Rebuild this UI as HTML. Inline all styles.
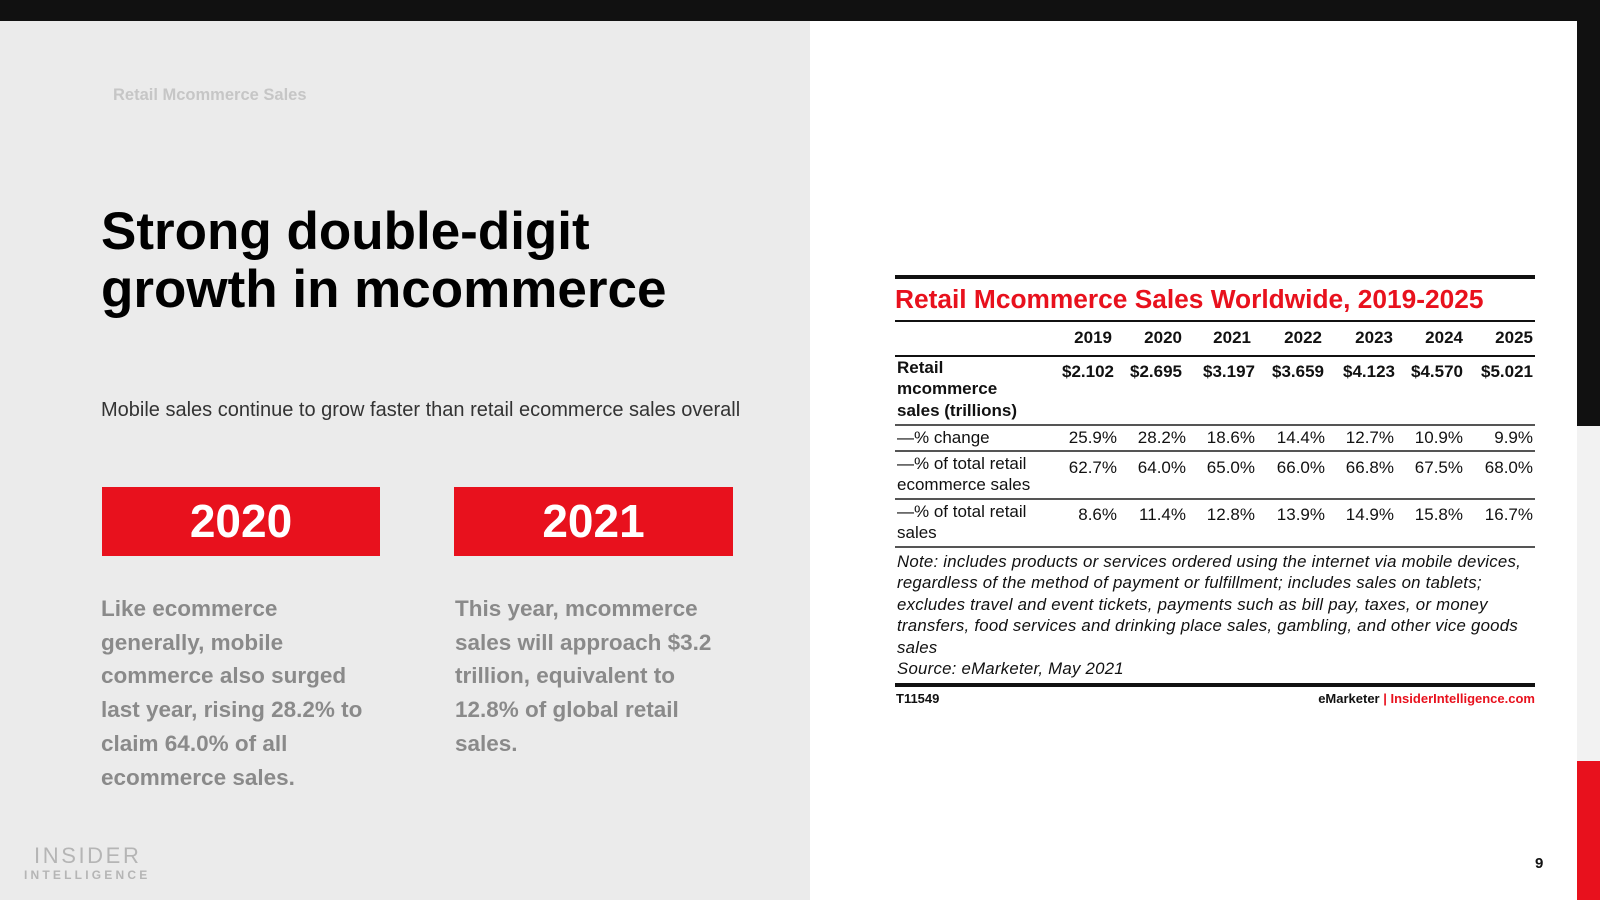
<!DOCTYPE html>
<html><head><meta charset="utf-8"><style>
*{margin:0;padding:0;box-sizing:border-box}
body{width:1600px;height:900px;position:relative;overflow:hidden;background:#fff;font-family:"Liberation Sans",Arial,sans-serif}
.a{position:absolute;white-space:nowrap}
.l{position:absolute;left:895px;width:640px;background:#111}
.v{position:absolute;width:70px;text-align:right;font-size:17px;color:#111}
.rl{position:absolute;left:897px;font-size:17px;color:#111;line-height:21.4px}
.p{position:absolute;font-size:22.5px;font-weight:bold;color:#8a8a8a;line-height:33.7px;white-space:nowrap}
.box{position:absolute;top:487px;height:69px;background:#e8111d;color:#fff;font-weight:bold;font-size:46px;text-align:center;line-height:69px}
</style></head><body>
<div class="a" style="left:0;top:0;width:810px;height:900px;background:#ebebeb"></div>
<div class="a" style="left:0;top:0;width:1600px;height:21px;background:#111"></div>
<div class="a" style="left:1577px;top:21px;width:23px;height:405px;background:#111"></div>
<div class="a" style="left:1577px;top:426px;width:23px;height:335px;background:#f2f2f2"></div>
<div class="a" style="left:1577px;top:761px;width:23px;height:139px;background:#e8111d"></div>

<div class="a" style="left:113px;top:86px;font-size:16.5px;font-weight:bold;color:#c6c6c6">Retail Mcommerce Sales</div>
<div class="a" style="left:101px;top:203px;font-size:53px;font-weight:bold;color:#000;line-height:58px">Strong double-digit<br>growth in mcommerce</div>
<div class="a" style="left:101px;top:399px;font-size:20px;color:#333">Mobile sales continue to grow faster than retail ecommerce sales overall</div>
<div class="box" style="left:102px;width:278px">2020</div>
<div class="box" style="left:454px;width:279px">2021</div>
<div class="p" style="left:101px;top:592px">Like ecommerce<br>generally, mobile<br>commerce also surged<br>last year, rising 28.2% to<br>claim 64.0% of all<br>ecommerce sales.</div>
<div class="p" style="left:455px;top:592px">This year, mcommerce<br>sales will approach $3.2<br>trillion, equivalent to<br>12.8% of global retail<br>sales.</div>
<div class="a" style="left:34px;top:843px;font-size:22px;color:#b5b5b5;letter-spacing:2.6px">INSIDER</div>
<div class="a" style="left:24px;top:868px;font-size:12px;font-weight:bold;color:#b5b5b5;letter-spacing:3.2px">INTELLIGENCE</div>

<div class="l" style="top:275px;height:4px"></div>
<div class="a" style="left:895px;top:284px;font-size:26.3px;font-weight:bold;color:#e8111d">Retail Mcommerce Sales Worldwide, 2019-2025</div>
<div class="l" style="top:320px;height:2px"></div>
<div class="l" style="top:355px;height:1.5px"></div>
<div class="l" style="top:424px;height:1.5px;background:#555"></div>
<div class="l" style="top:450px;height:1.5px;background:#555"></div>
<div class="l" style="top:498px;height:1.5px;background:#555"></div>
<div class="l" style="top:546px;height:1.5px;background:#555"></div>
<div class="l" style="top:683px;height:4px"></div>

<div class="rl" style="top:357px;font-weight:bold">Retail<br>mcommerce<br>sales (trillions)</div>
<div class="rl" style="top:427px">—% change</div>
<div class="rl" style="top:453px">—% of total retail<br>ecommerce sales</div>
<div class="rl" style="top:501px">—% of total retail<br>sales</div>

<div class="v" style="left:1042px;top:328px;font-weight:bold">2019</div>
<div class="v" style="left:1112px;top:328px;font-weight:bold">2020</div>
<div class="v" style="left:1181px;top:328px;font-weight:bold">2021</div>
<div class="v" style="left:1252px;top:328px;font-weight:bold">2022</div>
<div class="v" style="left:1323px;top:328px;font-weight:bold">2023</div>
<div class="v" style="left:1393px;top:328px;font-weight:bold">2024</div>
<div class="v" style="left:1463px;top:328px;font-weight:bold">2025</div>

<div class="v" style="left:1044px;top:362px;font-weight:bold">$2.102</div>
<div class="v" style="left:1112px;top:362px;font-weight:bold">$2.695</div>
<div class="v" style="left:1185px;top:362px;font-weight:bold">$3.197</div>
<div class="v" style="left:1254px;top:362px;font-weight:bold">$3.659</div>
<div class="v" style="left:1325px;top:362px;font-weight:bold">$4.123</div>
<div class="v" style="left:1393px;top:362px;font-weight:bold">$4.570</div>
<div class="v" style="left:1463px;top:362px;font-weight:bold">$5.021</div>

<div class="v" style="left:1047px;top:428px">25.9%</div>
<div class="v" style="left:1116px;top:428px">28.2%</div>
<div class="v" style="left:1185px;top:428px">18.6%</div>
<div class="v" style="left:1255px;top:428px">14.4%</div>
<div class="v" style="left:1324px;top:428px">12.7%</div>
<div class="v" style="left:1393px;top:428px">10.9%</div>
<div class="v" style="left:1463px;top:428px">9.9%</div>

<div class="v" style="left:1047px;top:458px">62.7%</div>
<div class="v" style="left:1116px;top:458px">64.0%</div>
<div class="v" style="left:1185px;top:458px">65.0%</div>
<div class="v" style="left:1255px;top:458px">66.0%</div>
<div class="v" style="left:1324px;top:458px">66.8%</div>
<div class="v" style="left:1393px;top:458px">67.5%</div>
<div class="v" style="left:1463px;top:458px">68.0%</div>

<div class="v" style="left:1047px;top:505px">8.6%</div>
<div class="v" style="left:1116px;top:505px">11.4%</div>
<div class="v" style="left:1185px;top:505px">12.8%</div>
<div class="v" style="left:1255px;top:505px">13.9%</div>
<div class="v" style="left:1324px;top:505px">14.9%</div>
<div class="v" style="left:1393px;top:505px">15.8%</div>
<div class="v" style="left:1463px;top:505px">16.7%</div>

<div class="rl" style="top:551px;font-style:italic;font-size:16.8px;letter-spacing:0.25px;line-height:21.4px">Note: includes products or services ordered using the internet via mobile devices,<br>regardless of the method of payment or fulfillment; includes sales on tablets;<br>excludes travel and event tickets, payments such as bill pay, taxes, or money<br>transfers, food services and drinking place sales, gambling, and other vice goods<br>sales<br>Source: eMarketer, May 2021</div>
<div class="a" style="left:896px;top:691px;font-size:13px;font-weight:bold;color:#111">T11549</div>
<div class="a" style="left:1298px;top:691px;font-size:13px;font-weight:bold;color:#111;width:237px;text-align:right">eMarketer <span style="color:#e8111d">|</span> <span style="color:#e8111d">InsiderIntelligence.com</span></div>
<div class="a" style="left:1535px;top:855px;font-size:15px;font-weight:bold;color:#111">9</div>
</body></html>
